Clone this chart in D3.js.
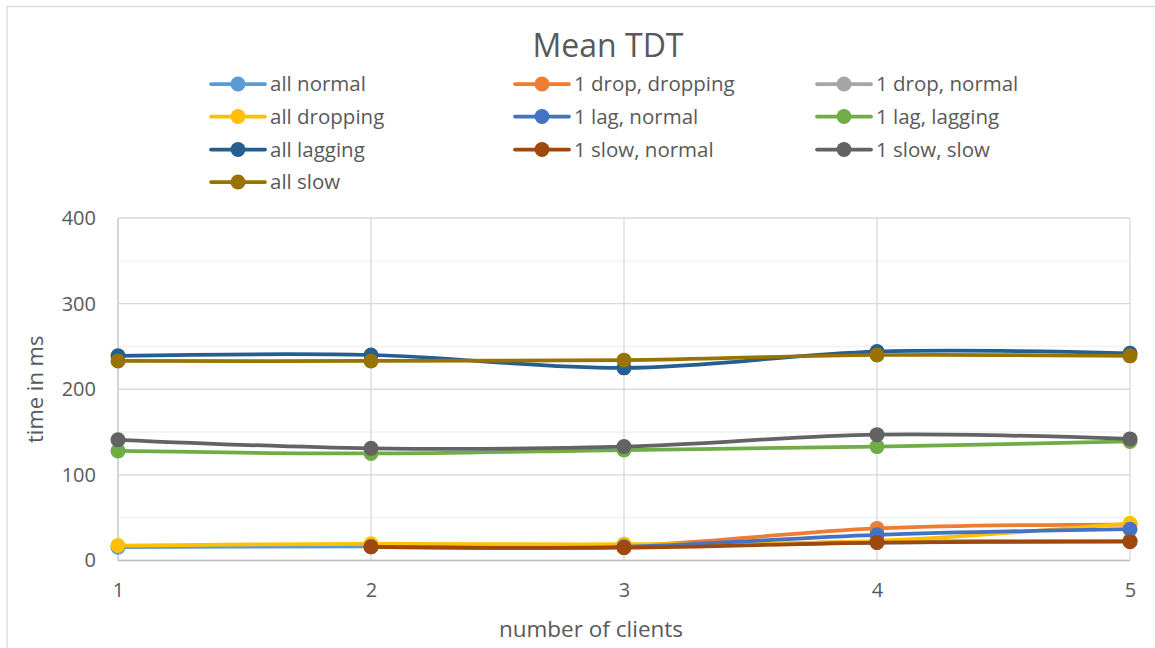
<!DOCTYPE html>
<html>
<head>
<meta charset="utf-8">
<script src="https://cdn.jsdelivr.net/npm/d3@7"></script>
<style>
  html, body { margin: 0; padding: 0; background: #fff; }
  svg { display: block; font-family: "Open Sans", Lato, sans-serif; }
</style>
</head>
<body>
<svg id="chart" width="1155" height="648"></svg>
<script>
// ---- data ----
const clients = [1, 2, 3, 4, 5];
const yTicks = [0, 100, 200, 300, 400];
const yMinorTicks = [50, 150, 250, 350];
const seriesNames = ["all normal", "1 drop, dropping", "1 drop, normal", "all dropping", "1 lag, normal",
  "1 lag, lagging", "all lagging", "1 slow, normal", "1 slow, slow", "all slow"];
const seriesColors = ["#5B9BD5", "#ED7D31", "#A5A5A5", "#FFC000", "#4472C4",
  "#70AD47", "#255E91", "#9E480E", "#636363", "#997300"];
const allNormal      = [15.5, 16.5, 16.5, 21, 23];
const oneDropDropping= [null, 18, 17, 37.5, 42];
const oneDropNormal  = [null, 16, 16, 22, 23];
const allDropping    = [17.5, 19.5, 19, 23, 43.5];
const oneLagNormal   = [null, 16, 16, 30, 36.5];
const oneLagLagging  = [128, 125, 129, 133, 139];
const allLagging     = [239, 240, 225, 244, 242];
const oneSlowNormal  = [null, 16, 15, 21, 22];
const oneSlowSlow    = [141, 131, 133, 147, 142];
const allSlow        = [233, 233, 234, 240, 239];
const seriesValues = [allNormal, oneDropDropping, oneDropNormal, allDropping, oneLagNormal,
  oneLagLagging, allLagging, oneSlowNormal, oneSlowSlow, allSlow];

const title = "Mean TDT";
const xTitle = "number of clients";
const yTitle = "time in ms";

// ---- drawing ----
const svg = d3.select("#chart");
const textColor = "#595959";
const font = "'Open Sans', Lato, sans-serif";

// outer chart border
svg.append("rect").attr("x", 7).attr("y", 6.5).attr("width", 1160).attr("height", 660)
  .attr("fill", "none").attr("stroke", "#D9D9D9").attr("stroke-width", 1.3);

const x = d3.scaleLinear().domain([1, 5]).range([118, 1130]);
const y = d3.scaleLinear().domain([0, 400]).range([560.5, 218]);

// minor horizontal gridlines
svg.append("g").selectAll("line").data(yMinorTicks).join("line")
  .attr("x1", x(1)).attr("x2", x(5)).attr("y1", d => y(d)).attr("y2", d => y(d))
  .attr("stroke", "#F0F0F0").attr("stroke-width", 1.3);
// major horizontal gridlines
svg.append("g").selectAll("line").data(yTicks).join("line")
  .attr("x1", x(1)).attr("x2", x(5)).attr("y1", d => y(d)).attr("y2", d => y(d))
  .attr("stroke", "#D9D9D9").attr("stroke-width", 1.3);
// vertical gridlines
svg.append("g").selectAll("line").data(clients).join("line")
  .attr("x1", d => x(d)).attr("x2", d => x(d)).attr("y1", y(0)).attr("y2", y(400))
  .attr("stroke", "#D9D9D9").attr("stroke-width", 1.3);

// axes
const yAxis = svg.append("g").attr("transform", `translate(${x(1) - 22},0)`)
  .call(d3.axisLeft(y).tickValues(yTicks).tickSize(0).tickPadding(0));
yAxis.select(".domain").remove();
yAxis.selectAll("text").attr("fill", textColor).style("font-size", "20px")
  .style("font-family", font);

const xAxis = svg.append("g").attr("transform", `translate(0,${y(0) + 22})`)
  .call(d3.axisBottom(x).tickValues(clients).tickFormat(d3.format("d")).tickSize(0).tickPadding(0));
xAxis.select(".domain").remove();
xAxis.selectAll("text").attr("fill", textColor).style("font-size", "20px")
  .style("font-family", font);

// axis lines
svg.append("line").attr("x1", x(1)).attr("x2", x(5)).attr("y1", y(0)).attr("y2", y(0))
  .attr("stroke", "#BFBFBF").attr("stroke-width", 1.5);
svg.append("line").attr("x1", x(1)).attr("x2", x(1)).attr("y1", y(0)).attr("y2", y(400))
  .attr("stroke", "#CFCFCF").attr("stroke-width", 1.5);

// titles
svg.append("text").attr("x", 608).attr("y", 57).attr("text-anchor", "middle")
  .attr("fill", textColor).style("font-size", "32px").text(title);
svg.append("text").attr("x", 591).attr("y", 637).attr("text-anchor", "middle")
  .attr("fill", textColor).style("font-size", "22.5px").text(xTitle);
svg.append("text").attr("transform", `translate(43,${y(200)}) rotate(-90)`).attr("text-anchor", "middle")
  .attr("fill", textColor).style("font-size", "22px").text(yTitle);

// series lines
const line = d3.line()
  .defined(d => d[1] !== null)
  .x(d => x(d[0])).y(d => y(d[1]))
  .curve(d3.curveCatmullRom.alpha(0));

const seriesG = svg.append("g");
seriesValues.forEach((vals, i) => {
  const pts = clients.map((c, j) => [c, vals[j]]);
  const g = seriesG.append("g");
  g.append("path").datum(pts).attr("d", line).attr("fill", "none")
    .attr("stroke", seriesColors[i]).attr("stroke-width", 3.75).attr("stroke-linecap", "round");
  g.selectAll("circle").data(pts.filter(p => p[1] !== null)).join("circle")
    .attr("cx", d => x(d[0])).attr("cy", d => y(d[1])).attr("r", 7.5)
    .attr("fill", seriesColors[i]);
});

// legend
const legCols = [211, 515, 817];
const legRows = [84, 116.5, 149.5, 182];
const leg = svg.append("g");
seriesNames.forEach((name, i) => {
  const lx = legCols[i % 3];
  const ly = legRows[Math.floor(i / 3)];
  const g = leg.append("g").attr("transform", `translate(${lx},${ly})`);
  g.append("line").attr("x1", 0).attr("x2", 54).attr("y1", 0).attr("y2", 0)
    .attr("stroke", seriesColors[i]).attr("stroke-width", 3.75).attr("stroke-linecap", "round");
  g.append("circle").attr("cx", 27).attr("cy", 0).attr("r", 7.5).attr("fill", seriesColors[i]);
  g.append("text").attr("x", 59).attr("y", 0).attr("dy", "0.35em")
    .attr("fill", textColor).style("font-size", "20.5px").text(name);
});
</script>
</body>
</html>
